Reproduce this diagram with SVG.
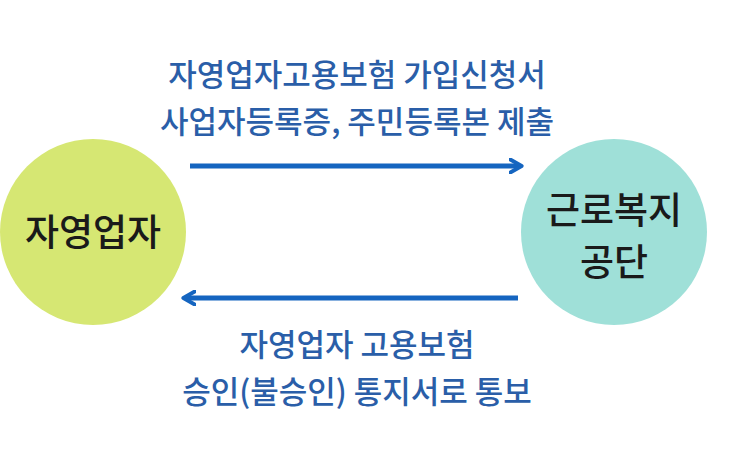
<svg xmlns="http://www.w3.org/2000/svg" width="740" height="454" viewBox="0 0 740 454">
<style>
.lbl{font-family:"Noto Sans CJK KR","Noto Sans",sans-serif;font-size:31px;font-weight:500;fill:#2a5ea8;text-anchor:middle}
.nd{font-family:"Noto Sans CJK KR","Noto Sans",sans-serif;font-size:37px;font-weight:500;fill:#1a1a1a;text-anchor:middle}
.ar{stroke:#1565c0;stroke-width:5;fill:none}
</style>
<defs><marker id="h" viewBox="0 0 10 10" refX="7" refY="5" markerWidth="3.2" markerHeight="3.2" orient="auto"><path d="M1,1 L8,5 L1,9" fill="none" stroke="#1565c0" stroke-width="2.5" stroke-linecap="round" stroke-linejoin="round"/></marker></defs>
<rect width="740" height="454" fill="#fff"/>
<g id="n1"><circle cx="93" cy="232" r="93" fill="#d6e773"/><text class="nd" x="93" y="246">자영업자</text></g>
<g id="n2"><circle cx="614" cy="232" r="93" fill="#9fe0d8"/><text class="nd" x="614" y="224">근로복지</text><text class="nd" x="614" y="276">공단</text></g>
<g id="edges">
<line class="ar" x1="190" y1="166" x2="520" y2="166" marker-end="url(#h)"/>
<line class="ar" x1="518" y1="298" x2="185" y2="298" marker-end="url(#h)"/>
</g>
<text class="lbl" x="357" y="86">자영업자고용보험 가입신청서</text>
<text class="lbl" x="357" y="133">사업자등록증, 주민등록본 제출</text>
<text class="lbl" x="357" y="356">자영업자 고용보험</text>
<text class="lbl" x="357" y="403">승인(불승인) 통지서로 통보</text>
</svg>
